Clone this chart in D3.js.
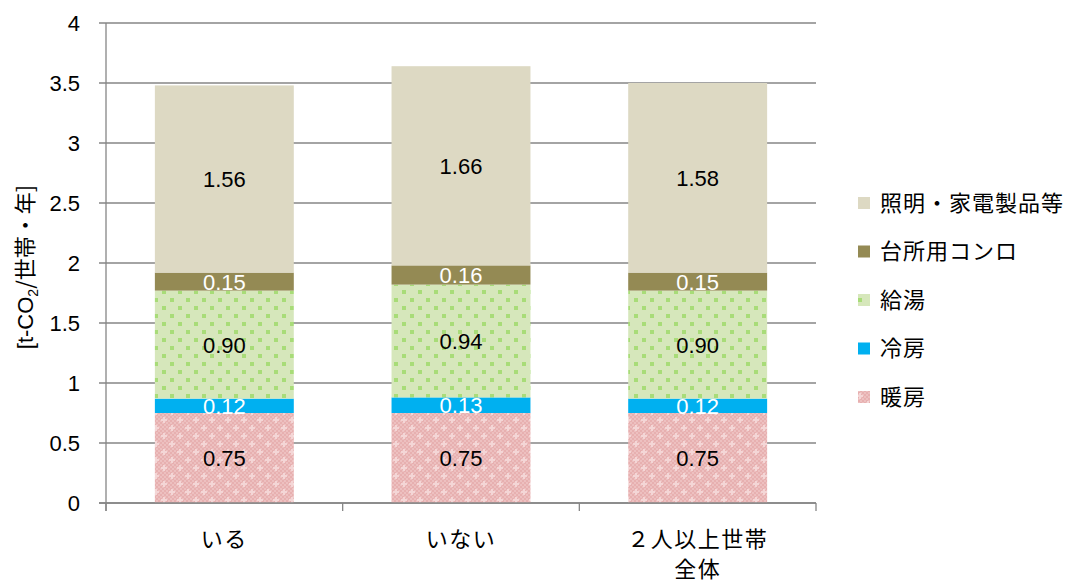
<!DOCTYPE html>
<html><head><meta charset="utf-8">
<script src="https://cdn.jsdelivr.net/npm/d3@7"></script>
<style>body{margin:0;background:#fff}svg{display:block}</style>
</head><body>
<svg id="c" width="1078" height="584"></svg>
<script>
const categories = ["いる", "いない", "２人以上世帯\n全体"];
const seriesNames = ["暖房", "冷房", "給湯", "台所用コンロ", "照明・家電製品等"];
const heating = [0.75, 0.75, 0.75];
const cooling = [0.12, 0.13, 0.12];
const hotWater = [0.90, 0.94, 0.90];
const stove = [0.15, 0.16, 0.15];
const lighting = [1.56, 1.66, 1.58];
const yTicks = [0, 0.5, 1, 1.5, 2, 2.5, 3, 3.5, 4];

const seriesValues = [heating, cooling, hotWater, stove, lighting];
const fills = ["url(#pPink)", "#00b0f0", "url(#pGreen)", "#948a54", "#ddd9c3"];
const labelColors = ["#000", "#fff", "#000", "#fff", "#000"];

const svg = d3.select("#c");
const defs = svg.append("defs");
// pink pattern
const pp = defs.append("pattern").attr("id","pPink").attr("patternUnits","userSpaceOnUse").attr("width",16).attr("height",16);
pp.append("rect").attr("width",16).attr("height",16).attr("fill","#e7b0b0");
for (let i=0;i<8;i++) for (let j=0;j<8;j++) if ((i+j)%2===0) pp.append("rect").attr("x",i*2).attr("y",j*2).attr("width",2).attr("height",2).attr("fill","#edc0c0");
pp.append("rect").attr("x",3).attr("y",1).attr("width",2).attr("height",6).attr("fill","#f4d6d6");
pp.append("rect").attr("x",1).attr("y",3).attr("width",6).attr("height",2).attr("fill","#f4d6d6");
pp.append("rect").attr("x",11).attr("y",9).attr("width",2).attr("height",6).attr("fill","#f4d6d6");
pp.append("rect").attr("x",9).attr("y",11).attr("width",6).attr("height",2).attr("fill","#f4d6d6");
// green pattern
const gp = defs.append("pattern").attr("id","pGreen").attr("patternUnits","userSpaceOnUse").attr("width",16).attr("height",16);
gp.append("rect").attr("width",16).attr("height",16).attr("fill","#d6e7bb");
gp.append("rect").attr("x",2).attr("y",2).attr("width",4).attr("height",4).attr("fill","#a8dc78");
gp.append("rect").attr("x",10).attr("y",10).attr("width",4).attr("height",4).attr("fill","#a8dc78");

const x0 = 106, x1 = 816, yTop = 23, yBot = 503;
const x = d3.scaleBand().domain(categories).range([x0, x1]).paddingInner(0.413).paddingOuter(0.2065);
const xb = d3.scaleBand().domain(categories).range([x0, x1]);
const y = d3.scaleLinear().domain([0, 4]).range([yBot, yTop]);

const axisColor = "#868686";
const numFont = "'Liberation Sans', Arial, sans-serif";
const jpFont = "'Noto Sans CJK JP', sans-serif";

// gridlines
svg.append("g").selectAll("line").data(yTicks).join("line")
  .attr("x1", x0 - 7).attr("x2", x1).attr("y1", d => y(d)).attr("y2", d => y(d))
  .attr("stroke", axisColor).attr("stroke-width", 1.3);

// y axis labels
const yAxis = d3.axisLeft(y).tickValues(yTicks).tickSize(0).tickPadding(26).tickFormat(d3.format("~g"));
const ya = svg.append("g").attr("transform", `translate(${x0},0)`).call(yAxis);
ya.select(".domain").remove();
ya.selectAll("text").attr("font-family", numFont).attr("font-size", 22).attr("fill", "#000");

// stacked data
const stackData = categories.map((c, i) => {
  const o = {cat: c};
  seriesNames.forEach((s, k) => o[s] = seriesValues[k][i]);
  return o;
});
const stack = d3.stack().keys(seriesNames)(stackData);

stack.forEach((layer, k) => {
  const g = svg.append("g");
  g.selectAll("rect").data(layer).join("rect")
    .attr("x", d => x(d.data.cat)).attr("width", x.bandwidth())
    .attr("y", d => y(d[1])).attr("height", d => y(d[0]) - y(d[1]))
    .attr("fill", fills[k]);
});
stack.forEach((layer, k) => {
  svg.append("g").selectAll("text").data(layer).join("text")
    .attr("x", d => x(d.data.cat) + x.bandwidth()/2)
    .attr("y", d => (y(d[0]) + y(d[1]))/2)
    .attr("dy", "0.36em").attr("text-anchor", "middle")
    .attr("font-family", numFont).attr("font-size", 22)
    .attr("fill", labelColors[k])
    .text(d => d3.format(".2f")(d[1]-d[0]));
});

// axes lines
svg.append("line").attr("x1", x0).attr("x2", x0).attr("y1", yTop).attr("y2", yBot + 8).attr("stroke", axisColor).attr("stroke-width", 1.3);
svg.append("line").attr("x1", x0 - 7).attr("x2", x1).attr("y1", yBot).attr("y2", yBot).attr("stroke", axisColor).attr("stroke-width", 1.5);
const bounds = [x0].concat(categories.map(c => xb(c) + xb.bandwidth()));
svg.append("g").selectAll("line").data(bounds).join("line")
  .attr("x1", d => d).attr("x2", d => d).attr("y1", yBot).attr("y2", yBot + 8)
  .attr("stroke", axisColor).attr("stroke-width", 1.3);

// x labels
categories.forEach(c => {
  const lines = c.split("\n");
  const t = svg.append("text").attr("text-anchor", "middle")
    .attr("font-family", jpFont).attr("font-size", 22).attr("letter-spacing", 1.5).attr("fill", "#000");
  lines.forEach((ln, i) => {
    t.append("tspan").attr("x", xb(c) + xb.bandwidth()/2).attr("y", 547 + i*30).text(ln);
  });
});

// y title
const yt = svg.append("text").attr("transform", "translate(33,267) rotate(-90)")
  .attr("text-anchor", "middle").attr("font-size", 22).attr("fill", "#000").attr("font-family", jpFont);
yt.append("tspan").attr("font-family", numFont).text("[t-CO");
yt.append("tspan").attr("font-family", numFont).attr("font-size", 14).attr("dy", 5).text("2");
yt.append("tspan").attr("dy", -5).text("/世帯・年]");

// legend
const legendOrder = seriesNames.map((s, k) => k).reverse();
const lg = svg.append("g");
legendOrder.forEach((k, i) => {
  const cy = 203 + i * 48.5;
  lg.append("rect").attr("x", 858).attr("y", cy - 6).attr("width", 12).attr("height", 12).attr("fill", fills[k]);
  lg.append("text").attr("x", 880).attr("y", cy).attr("dy", "0.36em")
    .attr("font-family", jpFont).attr("font-size", 22).attr("letter-spacing", 1).attr("fill", "#000").text(seriesNames[k]);
});
</script>
</body></html>
